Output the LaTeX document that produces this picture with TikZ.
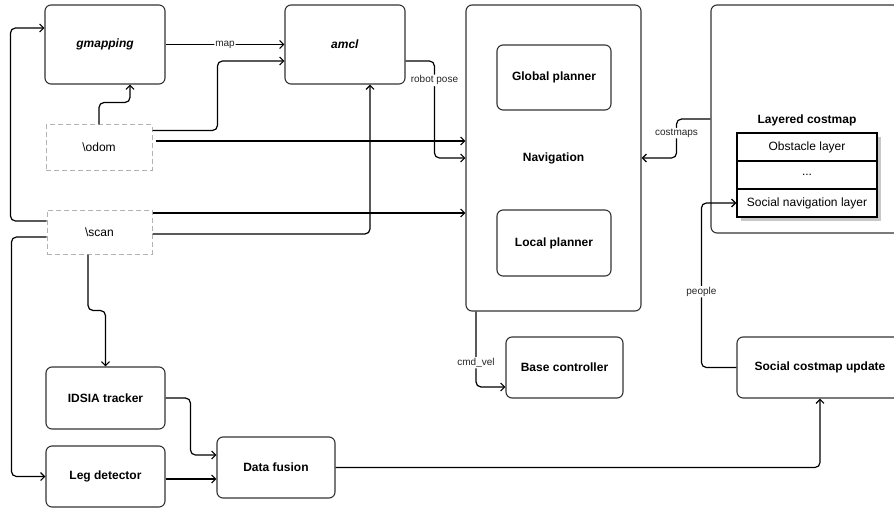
\documentclass[tikz,border=0pt]{standalone}
\usepackage{fontspec}
\setmainfont{Liberation Sans}
\usetikzlibrary{arrows.meta,calc}

\begin{document}
\begin{tikzpicture}[x=1pt,y=-1pt,
    box/.style={draw=black!80, line width=1.1pt, rounded corners=6pt, align=center,
                font=\fontsize{12}{14}\selectfont\bfseries},
    srcbox/.style={draw=black!30, dashed, dash pattern=on 5pt off 3pt, line width=1pt,
                font=\fontsize{12}{14}\selectfont},
    layer/.style={draw=black, line width=1.2pt, fill=white, minimum width=140, minimum height=28,
                font=\fontsize{12}{14}\selectfont},
    conn/.style={line width=1.2pt, rounded corners=5pt, -{Straight Barb[length=4pt,width=8pt]}},
    lbl/.style={fill=white, inner sep=1pt, text=black!85, font=\fontsize{10}{12}\selectfont}]
                \useasboundingbox (0,0) rectangle (894,508);

                \node[box, minimum width=120, minimum height=79] (gmap) at (105,44.5) {\textit{gmapping}};
                \node[box, minimum width=120, minimum height=79] (amcl) at (345,44.5) {\textit{amcl}};
                \node[box, minimum width=175, minimum height=306] (nav) at (553.5,158) {Navigation};
                \node[box, minimum width=114, minimum height=65] (glob) at (554,77.5) {Global planner};
                \node[box, minimum width=114, minimum height=66] (loc) at (554,243) {Local planner};

                \node[box, minimum width=199, minimum height=228] (cost) at (810.5,119) {};
                \node[font=\fontsize{12}{14}\selectfont\bfseries] (costtitle) at (807,120) {Layered costmap};
                \fill[black!22] (741,137) rectangle (881,221);
                \node[layer] (obst) at (807,147) {Obstacle layer};
                \node[layer] (dots) at (807,175) {...};
                \node[layer] (soc) at (807,203) {Social navigation layer};

                \node[srcbox, minimum width=106, minimum height=45] (odom) at (99,147.5) {\textbackslash odom};
                \node[srcbox, minimum width=105, minimum height=44] (scan) at (99.5,232) {\textbackslash scan};

                \node[box, minimum width=119, minimum height=62] (idsia) at (105.5,398) {IDSIA tracker};
                \node[box, minimum width=119, minimum height=61] (leg) at (105.5,476.5) {Leg detector};
                \node[box, minimum width=118, minimum height=61] (fusion) at (276,467.5) {Data fusion};
                \node[box, minimum width=117, minimum height=61] (base) at (564.5,367.5) {Base controller};
                \node[box, minimum width=166, minimum height=61] (scu) at (820,367.5) {Social costmap update};

                \draw[conn] (gmap.east) -- node[lbl] {map} (amcl.west);
                \draw[conn] ($(amcl.east)+(0,16.5)$) -| node[lbl, pos=0.6] {robot pose} ($(nav.west)+(-31,0)$) -- (nav.west);
                \draw[conn] ($(odom.east)+(3,-6.5)$) -- ($(nav.west)+(0,-17)$);
                \draw[conn] ($(odom.east)+(0,-17)$) -| ($(amcl.west)+(-67,16.5)$) -- ($(amcl.west)+(0,16.5)$);
                \draw[conn] (odom.north) -- ++(0,-22) -| ($(gmap.south)+(25,0)$);
                \draw[conn] ($(scan.west)+(0,-11)$) -| ($(gmap.west)+(-34,-16.5)$) -- ($(gmap.west)+(0,-16.5)$);
                \draw[conn] ($(scan.east)+(0,-19)$) -- ($(nav.west)+(0,55)$);
                \draw[conn] ($(scan.east)+(0,2)$) -| ($(amcl.south)+(25,0)$);
                \draw[conn] ($(scan.west)+(0,5)$) -| ($(leg.west)+(-34,0)$) -- (leg.west);
                \draw[conn] ($(scan.south)+(-11.5,0)$) -- ++(0,56) -| (idsia.north);
                \draw[conn] (idsia.east) -| ($(fusion.west)+(-26,-12.5)$) -- ($(fusion.west)+(0,-12.5)$);
                \draw[conn] ($(leg.east)+(0,2.5)$) -- ($(fusion.west)+(0,11.5)$);
                \draw[conn] (fusion.east) -| (scu.south);
                \draw[conn] ($(nav.south)+(-77.5,0)$) |- node[lbl, pos=0.34] {cmd\_vel} ($(base.west)+(0,19.5)$);
                \draw[conn] (scu.west) -| node[lbl, pos=0.73] {people} ($(soc.west)+(-35,0)$) -- (soc.west);
                \draw[conn] (cost.west) -| node[lbl, pos=0.68] {costmaps} ($(nav.east)+(35,0)$) -- (nav.east);
            \end{tikzpicture}
\end{document}
